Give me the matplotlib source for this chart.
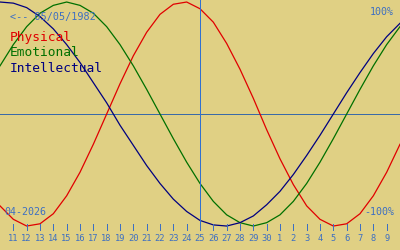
import matplotlib
matplotlib.use('Agg')
import matplotlib.pyplot as plt

# biorhythm for birth date 05/05/1982, window 10 Apr - 10 May 2026, today = 25 Apr
birth_label = '<-- 05/05/1982'
month_label = '04-2026'
day_offsets = list(range(-15, 16))  # days relative to today
physical = [-0.82, -0.94, -1.00, -0.98, -0.89, -0.73, -0.52, -0.27, 0.00, 0.27, 0.52,
            0.73, 0.89, 0.98, 1.00, 0.94, 0.82, 0.63, 0.40, 0.14, -0.14, -0.40,
            -0.63, -0.82, -0.94, -1.00, -0.98, -0.89, -0.73, -0.52, -0.27]
emotional = [0.43, 0.62, 0.78, 0.90, 0.97, 1.00, 0.97, 0.90, 0.78, 0.62, 0.43,
             0.22, 0.00, -0.22, -0.43, -0.62, -0.78, -0.90, -0.97, -1.00, -0.97, -0.90,
             -0.78, -0.62, -0.43, -0.22, 0.00, 0.22, 0.43, 0.62, 0.78]
intellectual = [1.00, 0.99, 0.95, 0.87, 0.76, 0.62, 0.46, 0.28, 0.10, -0.10, -0.28,
                -0.46, -0.62, -0.76, -0.87, -0.95, -0.99, -1.00, -0.97, -0.91, -0.81, -0.69,
                -0.54, -0.37, -0.19, 0.00, 0.19, 0.37, 0.54, 0.69, 0.81]
tick_offsets = list(range(-14, 15))
tick_labels = [str(d) for d in range(11, 31)] + [str(d) for d in range(1, 10)]

bg = '#e0d084'
txt_blue = '#3d6fc2'
mono = 'DejaVu Sans Mono'
px = 0.72  # one pixel at 100 dpi

fig = plt.figure(figsize=(4, 2.5), dpi=100, facecolor=bg)
ax = fig.add_axes([0, 0, 1, 1])
ax.set_facecolor(bg)
ax.set_xlim(-15, 15)
ax.set_ylim(-1.214, 1.018)
ax.axis('off')

ax.axhline(0, color='#3a6aa8', lw=px, antialiased=False)
ax.plot(day_offsets, physical, color='#e00000', lw=0.9)
ax.plot(day_offsets, emotional, color='#007000', lw=0.9)
ax.plot(day_offsets, intellectual, color='#000080', lw=0.9)
ax.axvline(0, ymin=0.08, ymax=1, color='#3070d0', lw=px, antialiased=False)

# day ticks along the bottom
ax.vlines(tick_offsets, -0.982, -1.036, color=txt_blue, lw=px, antialiased=False)
for x, lab in zip(tick_offsets, tick_labels):
    ax.text(x, -1.107, lab, ha='center', va='center', color=txt_blue,
            fontsize=6.3, family=mono)

fig.text(10 / 400, 1 - 17 / 250, birth_label, color=txt_blue, fontsize=7.3,
         family=mono, va='center')
fig.text(10 / 400, 1 - 38 / 250, 'Physical', color='#e00000', fontsize=9.3,
         family=mono, va='center')
fig.text(10 / 400, 1 - 53 / 250, 'Emotional', color='#007000', fontsize=9.3,
         family=mono, va='center')
fig.text(10 / 400, 1 - 68 / 250, 'Intellectual', color='#000080', fontsize=9.3,
         family=mono, va='center')
fig.text(4 / 400, 1 - 212 / 250, month_label, color=txt_blue, fontsize=7.2,
         family=mono, va='center')
fig.text(394 / 400, 1 - 12 / 250, '100%', color=txt_blue, fontsize=7.2,
         family=mono, va='center', ha='right')
fig.text(394 / 400, 1 - 212 / 250, '-100%', color=txt_blue, fontsize=7.2,
         family=mono, va='center', ha='right')

fig.savefig('out.png', dpi=100, facecolor=bg)
